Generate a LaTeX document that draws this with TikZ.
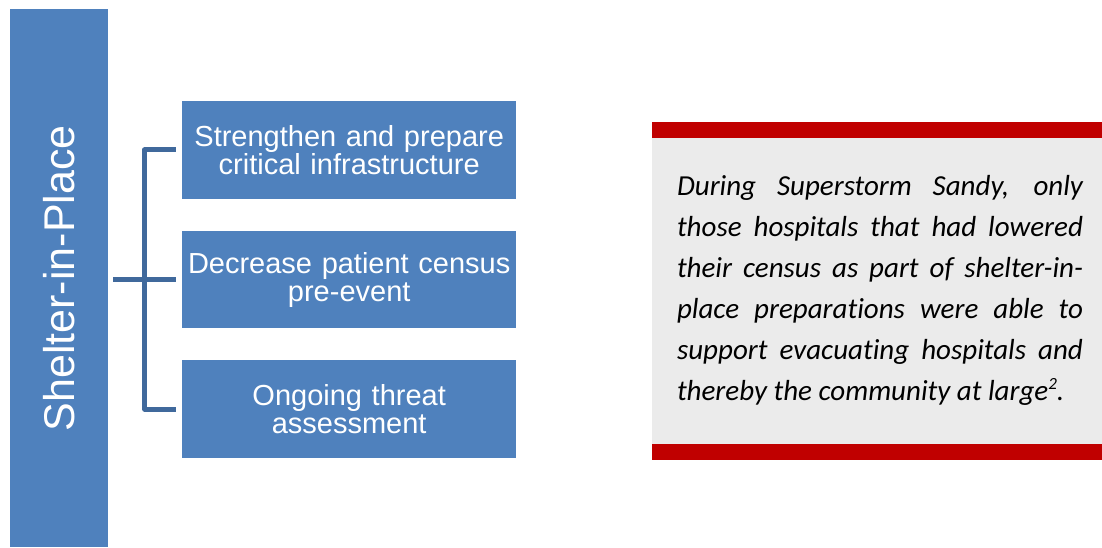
\documentclass[tikz,border=0pt]{standalone}
\usepackage{fontspec}
\setmainfont{Liberation Sans}
\newfontfamily\notefont[Ligatures=NoCommon]{Carlito}
\definecolor{barblue}{HTML}{4F81BD}
\definecolor{linkblue}{HTML}{40699C}
\definecolor{notered}{HTML}{C00000}
\definecolor{notegray}{HTML}{EBEBEB}
\begin{document}
\begin{tikzpicture}[x=1pt,y=-1pt,
    stepbox/.style={fill=barblue, text=white, inner sep=0pt,
        minimum width=334.5pt, minimum height=97.5pt,
        text width=330pt, align=center, font=\fontsize{29}{28}\selectfont},
    bracket/.style={draw=linkblue, line width=5pt, line join=round}]
    \useasboundingbox (0,0) rectangle (1102,547);
    \node[fill=barblue, text=white, rotate=90, inner sep=0pt,
        minimum width=538pt, minimum height=98.5pt,
        font=\fontsize{43}{43}\selectfont] (shelter) at (58.75,278.3) {Shelter-in-Place};

    \node[stepbox] (strengthen) at (349.2,149.8) {Strengthen and prepare\\critical infrastructure};
    \node[stepbox] (decrease) at (349.2,279.5) {Decrease patient census\\pre-event};
    \node[stepbox] (assess) at (349.2,409.2) {Ongoing threat\\assessment};

    \draw[bracket] ([xshift=-6pt]strengthen.west) -- ++(-31,0) |- ([xshift=-6pt]assess.west);
    \draw[bracket] ([xshift=5pt]shelter.south |- decrease.west) -- ([xshift=-6pt]decrease.west);

    \node[fill=notegray, inner sep=0pt, minimum width=450pt, minimum height=306.3pt] (panel) at (877,290.85) {};
    \fill[notered] (panel.north west) rectangle ([yshift=15.7pt]panel.north east);
    \fill[notered] (panel.south west) rectangle ([yshift=-15.7pt]panel.south east);
    \node[text width=406pt, align=justify, inner sep=0pt,
        font=\notefont\itshape\fontsize{29}{41}\selectfont] (quote) at (880,290.5)
        {During Superstorm Sandy, only\linebreak
        those hospitals that had lowered\linebreak
        their census as part of shelter-in-\linebreak
        place preparations were able to\linebreak
        support evacuating hospitals and\linebreak
        thereby the community at large\raisebox{11pt}{\fontsize{17}{17}\selectfont 2}.};
\end{tikzpicture}
\end{document}
